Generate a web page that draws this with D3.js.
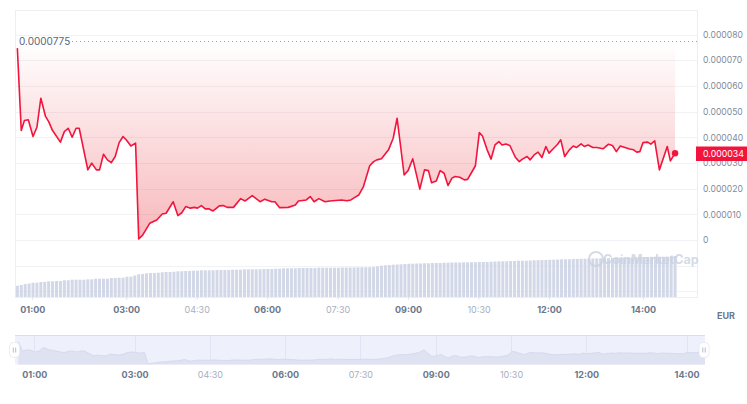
<!DOCTYPE html>
<html><head><meta charset="utf-8">
<script src="https://cdn.jsdelivr.net/npm/d3@7/dist/d3.min.js"></script>
<style>
html,body{margin:0;padding:0;background:#fff;}
svg{display:block;font-family:Inter,"Noto Sans",sans-serif;}
</style></head><body>
<svg id="c" width="747" height="404"></svg>
<script>
// ---- data ----
const times = ["00:41","00:46","00:50","00:55","01:01","01:06","01:11","01:17","01:21","01:26","01:36","01:41","01:46","01:51","01:56","02:00","02:11","02:16","02:22","02:26","02:31","02:36","02:41","02:46","02:51","02:56","03:00","03:06","03:12","03:16","03:21","03:30","03:39","03:46","03:51","04:00","04:06","04:11","04:16","04:22","04:27","04:31","04:36","04:41","04:46","04:51","04:59","05:04","05:09","05:17","05:26","05:32","05:41","05:51","05:57","06:06","06:10","06:16","06:27","06:36","06:40","06:50","06:55","07:00","07:06","07:14","07:20","07:35","07:42","07:47","07:52","07:57","08:03","08:11","08:16","08:20","08:26","08:35","08:41","08:46","08:55","09:00","09:06","09:15","09:21","09:26","09:30","09:36","09:41","09:46","09:51","09:56","10:00","10:06","10:12","10:16","10:20","10:26","10:31","10:35","10:41","10:46","10:51","10:56","11:00","11:05","11:10","11:17","11:22","11:26","11:32","11:36","11:41","11:46","11:51","11:56","12:00","12:06","12:11","12:15","12:20","12:26","12:31","12:35","12:41","12:45","12:50","12:56","13:01","13:09","13:16","13:21","13:26","13:31","13:37","13:43","13:48","13:52","13:56","14:00","14:06","14:10","14:15","14:21","14:31","14:35","14:41"];
const prices = [7.47e-5,4.26e-5,4.65e-5,4.68e-5,4.03e-5,4.39e-5,5.52e-5,4.81e-5,4.61e-5,4.26e-5,3.81e-5,4.22e-5,4.35e-5,4.00e-5,4.35e-5,4.35e-5,2.73e-5,2.99e-5,2.73e-5,2.73e-5,3.34e-5,3.12e-5,3.01e-5,3.25e-5,3.79e-5,4.03e-5,3.90e-5,3.66e-5,3.77e-5,0.04e-5,0.19e-5,0.65e-5,0.78e-5,1.01e-5,1.04e-5,1.49e-5,0.95e-5,1.06e-5,1.30e-5,1.24e-5,1.27e-5,1.24e-5,1.34e-5,1.21e-5,1.21e-5,1.13e-5,1.33e-5,1.34e-5,1.27e-5,1.27e-5,1.61e-5,1.52e-5,1.73e-5,1.49e-5,1.59e-5,1.49e-5,1.49e-5,1.26e-5,1.27e-5,1.36e-5,1.52e-5,1.56e-5,1.69e-5,1.49e-5,1.61e-5,1.49e-5,1.52e-5,1.56e-5,1.53e-5,1.56e-5,1.66e-5,1.75e-5,2.08e-5,2.89e-5,3.05e-5,3.12e-5,3.16e-5,3.51e-5,3.96e-5,4.74e-5,2.53e-5,2.70e-5,3.16e-5,1.98e-5,2.73e-5,2.70e-5,2.23e-5,2.30e-5,2.70e-5,2.60e-5,2.12e-5,2.41e-5,2.47e-5,2.44e-5,2.34e-5,2.36e-5,2.57e-5,2.89e-5,4.18e-5,4.05e-5,3.51e-5,3.15e-5,3.70e-5,3.83e-5,3.70e-5,3.74e-5,3.68e-5,3.22e-5,3.05e-5,3.15e-5,3.25e-5,3.12e-5,3.31e-5,3.42e-5,3.21e-5,3.64e-5,3.38e-5,3.57e-5,3.73e-5,3.90e-5,3.25e-5,3.51e-5,3.66e-5,3.60e-5,3.74e-5,3.64e-5,3.70e-5,3.60e-5,3.60e-5,3.55e-5,3.73e-5,3.68e-5,3.44e-5,3.66e-5,3.60e-5,3.54e-5,3.51e-5,3.42e-5,3.44e-5,3.79e-5,3.81e-5,3.73e-5,3.86e-5,2.73e-5,3.64e-5,3.08e-5,3.38e-5];
const volumeStart = "00:41";
const volumeStepMinutes = 5;
const volumes = [1130,1200,1300,1350,1430,1430,1500,1500,1570,1570,
1600,1600,1670,1670,1730,1730,1730,1730,1770,1770,
1830,1830,1830,1830,1900,1900,1930,1930,2030,2030,
2150,2270,2300,2370,2400,2400,2430,2470,2500,2500,
2530,2570,2570,2600,2600,2630,2630,2670,2670,2670,
2670,2700,2700,2700,2700,2730,2730,2730,2770,2770,
2770,2770,2770,2800,2800,2800,2830,2830,2870,2870,
2870,2870,2900,2900,2900,2900,2900,2930,2930,2930,
2930,2930,2930,2950,2950,2950,2950,2970,2970,2970,
2970,3000,3070,3130,3170,3200,3230,3250,3270,3300,
3330,3330,3350,3350,3370,3370,3400,3400,3400,3430,
3430,3450,3450,3450,3470,3470,3480,3480,3500,3500,
3500,3530,3550,3570,3570,3570,3600,3600,3630,3630,
3630,3650,3670,3680,3700,3700,3720,3730,3750,3770,
3770,3780,3800,3810,3830,3830,3840,3850,3860,3870,
3870,3880,3900,3910,3930,3930,3940,3960,3970,3990,
4000,4000,4010,4020,4030,4030,4040,4070,4100];
const xDomain = ["00:38","15:09"];
const navDomain = ["00:37","14:22"];
const tickTimes = ["01:00","03:00","04:30","06:00","07:30","09:00","10:30","12:00","14:00"];
const tickMajor = [true,true,false,true,false,true,false,true,true];
const yTicks = [0,0.00001,0.00002,0.00003,0.00004,0.00005,0.00006,0.00007,0.00008];
const yGrid = [-0.00002,-0.00001,0,0.00001,0.00002,0.00003,0.00004,0.00005,0.00006,0.00007,0.00008];
const highValue = 0.0000775;
const highLabel = "0.0000775";
const lastLabel = "0.000034";
const currency = "EUR";

// ---- setup ----
const parse = d3.timeParse("%H:%M");
const data = times.map((t,i)=>({t:parse(t), v:prices[i]}));
const v0 = parse(volumeStart);
const vdata = volumes.map((v,i)=>({t:d3.timeMinute.offset(v0, i*volumeStepMinutes), v}));
const svg = d3.select("#c");
const L=15, R=697, T=10, B=297;
const x = d3.scaleTime().domain(xDomain.map(parse)).range([L,R]);
const y = d3.scaleLinear().domain([0,0.00008]).range([240,34.5]);
const yv = d3.scaleLinear().domain([0,5000]).range([B, B-50]);
const red = "#f3143d";

const defs = svg.append("defs");
const grad = defs.append("linearGradient").attr("id","g1").attr("gradientUnits","userSpaceOnUse")
  .attr("x1",0).attr("x2",0).attr("y1",y(highValue)).attr("y2",240);
grad.append("stop").attr("offset",0).attr("stop-color","#ea3943").attr("stop-opacity",0.0);
grad.append("stop").attr("offset",1).attr("stop-color","#ea3943").attr("stop-opacity",0.36);
defs.append("clipPath").attr("id","navclip").append("rect").attr("x",15).attr("y",335).attr("width",690).attr("height",30);

// grid
svg.append("g").selectAll("line").data(yGrid).join("line")
  .attr("x1",L).attr("x2",R).attr("y1",d=>Math.round(y(d))+0.5).attr("y2",d=>Math.round(y(d))+0.5)
  .attr("stroke","#f1f2f4").attr("stroke-width",1);
// frame
svg.append("rect").attr("x",L+0.5).attr("y",T+0.5).attr("width",R-L).attr("height",B-T)
  .attr("fill","none").attr("stroke","#eceef1");

// volume bars
svg.append("g").selectAll("rect").data(vdata).join("rect")
  .attr("x",d=>x(d.t)-1.5).attr("width",3)
  .attr("y",d=>yv(d.v)).attr("height",d=>B-yv(d.v))
  .attr("fill","#d2d8e7");

// watermark
const wm = svg.append("g").attr("opacity",0.75);
wm.append("circle").attr("cx",596).attr("cy",259).attr("r",7).attr("fill","none").attr("stroke","#c9d0e0").attr("stroke-width",2);
wm.append("text").attr("x",603).attr("y",264).attr("font-size",12.5).attr("font-weight",700)
  .attr("fill","#c9d0e0").text("CoinMarketCap");

// area above line
const area = d3.area().x(d=>x(d.t)).y0(y(highValue)).y1(d=>y(d.v)).curve(d3.curveLinear);
svg.append("path").datum(data).attr("d",area).attr("fill","url(#g1)");

// high dotted line + label
svg.append("line").attr("x1",68).attr("x2",R).attr("y1",41.5).attr("y2",41.5)
  .attr("stroke","#9aa2b1").attr("stroke-dasharray","1,3");
svg.append("text").attr("x",19).attr("y",45).attr("font-size",10).attr("fill","#58667e").text(highLabel);

// price line
const line = d3.line().x(d=>x(d.t)).y(d=>y(d.v));
svg.append("path").datum(data).attr("d",line).attr("fill","none").attr("stroke",red)
  .attr("stroke-width",1.6).attr("stroke-linejoin","round");
const last = data[data.length-1];
svg.append("circle").attr("cx",x(last.t)).attr("cy",y(last.v)).attr("r",3.2).attr("fill",red);

// y axis (right)
const yAxis = d3.axisRight(y).tickValues(yTicks).tickSize(0).tickPadding(0)
  .tickFormat(d=> d===0 ? "0" : d.toFixed(6));
const ga = svg.append("g").attr("transform",`translate(703,0)`).call(yAxis);
ga.select(".domain").remove();
ga.selectAll("text").attr("font-size",8.6).attr("fill","#808a9d").attr("font-family","Inter,sans-serif");

// last price label
svg.append("rect").attr("x",696).attr("y",146.5).attr("width",51).attr("height",14.5).attr("fill",red);
svg.append("text").attr("x",703).attr("y",157).attr("font-size",8.8).attr("fill","#fff").text(lastLabel);

// x axis main
const xAxis = d3.axisBottom(x).tickValues(tickTimes.map(parse)).tickSize(3).tickPadding(7)
  .tickFormat(d3.timeFormat("%H:%M"));
const gx = svg.append("g").attr("transform",`translate(0,${B})`).call(xAxis);
gx.select(".domain").remove();
gx.selectAll(".tick line").attr("stroke","#e3e6ea");
gx.selectAll("text").attr("font-size",9).attr("font-family","Inter,sans-serif")
  .attr("font-weight",(d,i)=>tickMajor[i]?700:400)
  .attr("fill",(d,i)=>tickMajor[i]?"#6b778c":"#a7afc0");

svg.append("text").attr("x",717).attr("y",318.5).attr("font-size",9).attr("font-weight",700)
  .attr("fill","#6b778c").text(currency);

// navigator
const xn = d3.scaleTime().domain(navDomain.map(parse)).range([15,705]);
const yn = d3.scaleLinear().domain([0,0.000097]).range([364,335]);
const nav = svg.append("g");
nav.append("rect").attr("x",15).attr("y",335).attr("width",690).attr("height",29.5).attr("fill","#eef0fb");
nav.selectAll("line.vg").data(tickTimes.map(parse)).join("line").attr("class","vg")
  .attr("x1",d=>Math.round(xn(d))+0.5).attr("x2",d=>Math.round(xn(d))+0.5).attr("y1",335).attr("y2",364)
  .attr("stroke","#e1e4f4");
const navArea = d3.area().x(d=>xn(d.t)).y0(364.5).y1(d=>yn(d.v));
nav.append("path").datum(data).attr("d",navArea).attr("fill","#dfe2f1").attr("clip-path","url(#navclip)");
nav.append("path").datum(data).attr("d",d3.line().x(d=>xn(d.t)).y(d=>yn(d.v)))
  .attr("fill","none").attr("stroke","#d6daee").attr("stroke-width",1).attr("clip-path","url(#navclip)");
nav.append("line").attr("x1",15).attr("x2",705).attr("y1",335.5).attr("y2",335.5).attr("stroke","#d9ddf1");
// handles
[14.5,704].forEach(hx=>{
  const h = nav.append("g").attr("transform",`translate(${hx},350)`);
  h.append("rect").attr("x",-5).attr("y",-7.5).attr("width",10).attr("height",15).attr("rx",4)
    .attr("fill","#fff").attr("stroke","#e6e8f0").attr("stroke-width",0.8);
  h.append("line").attr("x1",-1.2).attr("x2",-1.2).attr("y1",-2.5).attr("y2",2.5).attr("stroke","#b5bccc");
  h.append("line").attr("x1",1.2).attr("x2",1.2).attr("y1",-2.5).attr("y2",2.5).attr("stroke","#b5bccc");
});
const xnAxis = d3.axisBottom(xn).tickValues(tickTimes.map(parse)).tickSize(0).tickPadding(8)
  .tickFormat(d3.timeFormat("%H:%M"));
const gn = svg.append("g").attr("transform",`translate(0,364)`).call(xnAxis);
gn.select(".domain").remove();
gn.selectAll("text").attr("font-size",9).attr("font-family","Inter,sans-serif")
  .attr("font-weight",(d,i)=>tickMajor[i]?700:400)
  .attr("fill",(d,i)=>tickMajor[i]?"#6b778c":"#a7afc0");
</script>
</body></html>
